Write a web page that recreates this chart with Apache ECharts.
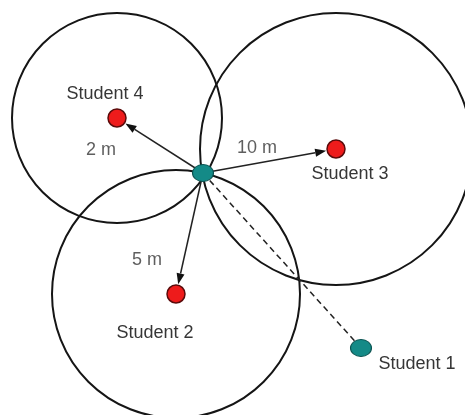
<!DOCTYPE html>
<html>
<head>
<meta charset="utf-8">
<title>Trilateration</title>
<script src="https://cdn.jsdelivr.net/npm/echarts@6/dist/echarts.min.js"></script>
<style>
  html, body { margin: 0; padding: 0; background: #fff; }
  #main { width: 465px; height: 415px; }
</style>
</head>
<body>
<div id="main"></div>
<script>
  // hub = the unknown node, every student measures its distance from it
  const hub = [203, 173];
  const studentNames = ['Student 1', 'Student 2', 'Student 3', 'Student 4'];
  const studentX = [361, 176, 336, 117];
  const studentY = [348, 294, 149, 118];
  // range circles for students 2, 3, 4
  const rangeRadius = [124, 136, 105];
  const distanceLabels = ['5 m', '10 m', '2 m'];

  // label offsets (px) from each dot
  const nameOffsets = [[56, 16], [-21, 39], [14, 25], [-12, -24]];
  const distOffsets = [[-29, -34], [-79, -1], [-16, 32]];

  const textStyle = {
    color: '#363636',
    fontFamily: 'Liberation Sans, Arial, sans-serif',
    fontSize: 18
  };

  var chart = echarts.init(document.getElementById('main'));

  // red students are 2..4, student 1 is the teal one
  const circleData = [];
  const arrowData = [];
  const redData = [];
  const distData = [];
  for (var i = 1; i < studentNames.length; i++) {
    circleData.push([studentX[i], studentY[i], rangeRadius[i - 1]]);
    arrowData.push([hub[0], hub[1], studentX[i], studentY[i]]);
    redData.push({
      name: studentNames[i],
      value: [studentX[i], studentY[i]],
      label: { offset: nameOffsets[i] }
    });
    distData.push({
      name: distanceLabels[i - 1],
      value: [studentX[i], studentY[i]],
      label: { offset: distOffsets[i - 1] }
    });
  }

  var option = {
    backgroundColor: '#fff',
    animation: false,
    grid: { left: 0, right: 0, top: 0, bottom: 0 },
    xAxis: { type: 'value', min: 0, max: 465, show: false },
    yAxis: { type: 'value', min: 0, max: 415, inverse: true, show: false },
    series: [
      {
        // range circles
        type: 'custom',
        z: 1,
        data: circleData,
        renderItem: function (params, api) {
          var c = api.coord([api.value(0), api.value(1)]);
          var r = api.size([api.value(2), 0])[0];
          return {
            type: 'circle',
            shape: { cx: c[0], cy: c[1], r: r },
            style: { fill: 'none', stroke: '#151515', lineWidth: 2 }
          };
        }
      },
      {
        // arrows hub -> red students
        type: 'custom',
        z: 2,
        data: arrowData,
        renderItem: function (params, api) {
          var a = api.coord([api.value(0), api.value(1)]);
          var b = api.coord([api.value(2), api.value(3)]);
          var dx = b[0] - a[0], dy = b[1] - a[1];
          var len = Math.sqrt(dx * dx + dy * dy);
          var ux = dx / len, uy = dy / len;
          var tip = [b[0] - ux * 10, b[1] - uy * 10];
          var base = [tip[0] - ux * 11, tip[1] - uy * 11];
          var wx = -uy * 4, wy = ux * 4;
          return {
            type: 'group',
            children: [
              {
                type: 'line',
                shape: { x1: a[0], y1: a[1], x2: base[0], y2: base[1] },
                style: { stroke: '#222', lineWidth: 1.5 }
              },
              {
                type: 'polygon',
                shape: { points: [tip, [base[0] + wx, base[1] + wy], [base[0] - wx, base[1] - wy]] },
                style: { fill: '#111' }
              }
            ]
          };
        }
      },
      {
        // dashed line hub -> student 1
        type: 'custom',
        z: 2,
        data: [[hub[0], hub[1], studentX[0], studentY[0]]],
        renderItem: function (params, api) {
          var a = api.coord([api.value(0), api.value(1)]);
          var b = api.coord([api.value(2), api.value(3)]);
          return {
            type: 'line',
            shape: { x1: a[0], y1: a[1], x2: b[0], y2: b[1] },
            style: { stroke: '#222', lineWidth: 1.5, lineDash: [6, 4] }
          };
        }
      },
      {
        // red students
        type: 'scatter',
        z: 3,
        symbolSize: 18,
        itemStyle: { color: '#ee1b1b', borderColor: '#5a0a0a', borderWidth: 1.5, opacity: 1 },
        label: Object.assign({
          show: true,
          position: 'inside',
          align: 'center',
          verticalAlign: 'middle',
          formatter: '{b}'
        }, textStyle),
        data: redData
      },
      {
        // distance labels
        type: 'scatter',
        z: 3,
        symbolSize: 1,
        itemStyle: { color: 'rgba(0,0,0,0)' },
        label: Object.assign({
          show: true,
          position: 'inside',
          align: 'center',
          verticalAlign: 'middle',
          formatter: '{b}'
        }, textStyle),
        data: distData
      },
      {
        // teal nodes: hub and student 1
        type: 'scatter',
        z: 4,
        symbol: 'circle',
        symbolSize: [21, 17],
        itemStyle: { color: '#148a87', borderColor: '#0b5250', borderWidth: 1, opacity: 1 },
        label: Object.assign({
          show: true,
          position: 'inside',
          align: 'center',
          verticalAlign: 'middle',
          formatter: function (p) { return p.name; }
        }, textStyle),
        data: [
          { name: '', value: hub },
          { name: studentNames[0], value: [studentX[0], studentY[0]], label: { offset: nameOffsets[0] } }
        ]
      }
    ]
  };

  chart.setOption(option);
  window.addEventListener('resize', chart.resize);
</script>
</body>
</html>
